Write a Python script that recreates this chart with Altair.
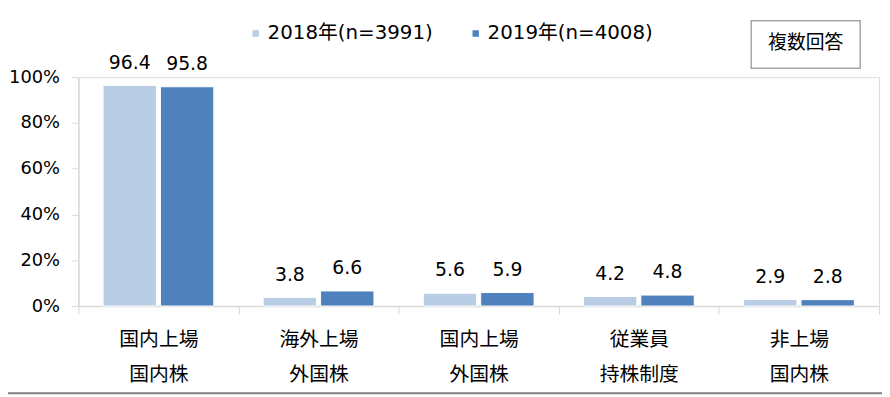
import altair as alt
import pandas as pd

categories = ["国内上場\n国内株", "海外上場\n外国株", "国内上場\n外国株", "従業員\n持株制度", "非上場\n国内株"]
series = ["2018年(n=3991)", "2019年(n=4008)"]
values_2018 = [96.4, 3.8, 5.6, 4.2, 2.9]
values_2019 = [95.8, 6.6, 5.9, 4.8, 2.8]
colors = ["#b9cde5", "#4f81bd"]
y_ticks = [0, 20, 40, 60, 80, 100]
note = ["複数回答"]

rows = []
for c, a, b in zip(categories, values_2018, values_2019):
    rows.append({"cat": c, "series": series[0], "value": a})
    rows.append({"cat": c, "series": series[1], "value": b})
df = pd.DataFrame(rows)
note_df = pd.DataFrame({"text": note})

CJK = "Noto Sans CJK JP"
MIX = "DejaVu Sans, Noto Sans CJK JP"

x_enc = alt.X("cat:N", sort=categories, title=None,
              scale=alt.Scale(paddingInner=0, paddingOuter=0),
              axis=alt.Axis(labelExpr="split(datum.label, '\\n')", labelAngle=0,
                            labelFont=CJK, labelFontSize=20, labelColor="#000000",
                            labelLineHeight=35, labelPadding=16, labelBaseline="top",
                            tickBand="extent", tickSize=8, tickColor="#d9d9d9",
                            domainColor="#d9d9d9", domainWidth=1.5, grid=False))
xo_enc = alt.XOffset("series:N", sort=series,
                     scale=alt.Scale(paddingInner=0.07, paddingOuter=0.43))
y_enc = alt.Y("value:Q", title=None,
              scale=alt.Scale(domain=[0, 100], nice=False),
              axis=alt.Axis(values=y_ticks, labelExpr="datum.value + '%'",
                            labelFont=MIX, labelFontSize=18, labelColor="#000000",
                            labelPadding=12, tickSize=7, tickColor="#d9d9d9",
                            domainColor="#d9d9d9", domainWidth=1.5, grid=False))

bars = alt.Chart(df).mark_bar(stroke="white", strokeWidth=1).encode(
    x=x_enc, xOffset=xo_enc, y=y_enc,
    color=alt.Color("series:N", sort=series,
                    scale=alt.Scale(domain=series, range=colors),
                    legend=alt.Legend(title=None, orient="none", direction="horizontal",
                                      legendX=169, legendY=-54,
                                      symbolType="square", symbolSize=64,
                                      labelFont=MIX, labelFontSize=20, labelLimit=400,
                                      labelColor="#000000", columnPadding=33,
                                      labelOffset=2)),
)

labels = alt.Chart(df).mark_text(font=MIX, fontSize=19, color="#000000",
                                 baseline="middle", dy=-23).encode(
    x=alt.X("cat:N", sort=categories),
    xOffset=alt.XOffset("series:N", sort=series),
    y="value:Q",
    text=alt.Text("value:Q", format=".1f"),
)

box = alt.Chart(note_df).mark_rect(fill="white", stroke="#a6a6a6", strokeWidth=1.5).encode(
    x=alt.value(679), x2=alt.value(789), y=alt.value(-57), y2=alt.value(-9))
box_text = alt.Chart(note_df).mark_text(font=CJK, fontSize=19, color="#000000",
                                        align="center", baseline="middle").encode(
    x=alt.value(734), y=alt.value(-34), text="text:N")
bottom_line = alt.Chart(note_df).mark_rule(color="#808080", strokeWidth=2).encode(
    x=alt.value(-71), x2=alt.value(811), y=alt.value(319))

chart = alt.layer(bars, labels, box, box_text, bottom_line).properties(
    width=808, height=231,
    autosize=alt.AutoSizeParams(type="none"),
    padding={"left": 71, "top": 68, "right": 3, "bottom": 90},
).configure_view(stroke=None).configure(background="white")

chart.save("out.html", embed_options={"renderer": "svg", "actions": False})
